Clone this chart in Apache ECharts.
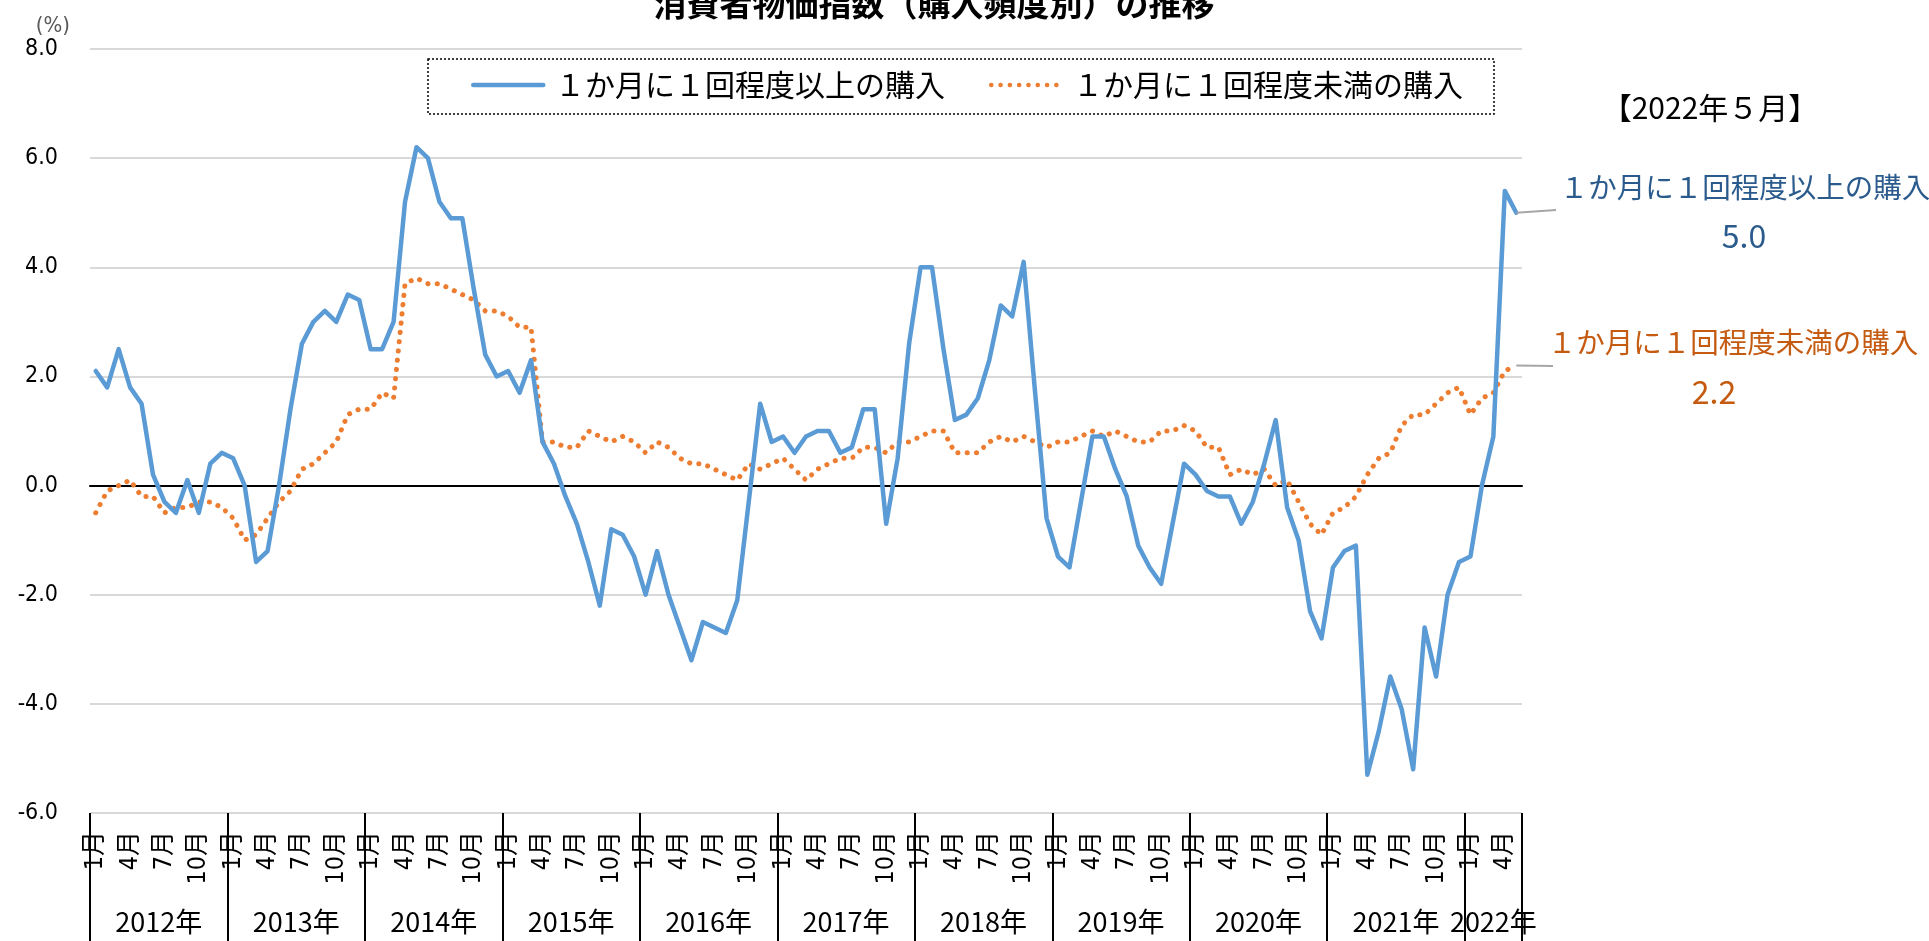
<!DOCTYPE html>
<html>
<head>
<meta charset="utf-8">
<title>消費者物価指数（購入頻度別）の推移</title>
<script src="https://cdn.jsdelivr.net/npm/echarts@6/dist/echarts.min.js"></script>
<style>
  html, body { margin: 0; padding: 0; background: #fff; }
  #chart { width: 1929px; height: 941px; }
</style>
</head>
<body>
<div id="chart"></div>
<script>
// 年・月（2012年1月〜2022年5月）
var years = [2012, 2013, 2014, 2015, 2016, 2017, 2018, 2019, 2020, 2021, 2022];
var lastMonth = 5;
var seriesNames = ['１か月に１回程度以上の購入', '１か月に１回程度未満の購入'];
var yTicks = [-6, -4, -2, 0, 2, 4, 6, 8];

// 前年同月比（％）
var frequent = [
  2.1, 1.8, 2.5, 1.8, 1.5, 0.2, -0.3, -0.5, 0.1, -0.5, 0.4, 0.6,
  0.5, 0.0, -1.4, -1.2, 0.0, 1.4, 2.6, 3.0, 3.2, 3.0, 3.5, 3.4,
  2.5, 2.5, 3.0, 5.2, 6.2, 6.0, 5.2, 4.9, 4.9, 3.6, 2.4, 2.0,
  2.1, 1.7, 2.3, 0.8, 0.4, -0.2, -0.7, -1.4, -2.2, -0.8, -0.9, -1.3,
  -2.0, -1.2, -2.0, -2.6, -3.2, -2.5, -2.6, -2.7, -2.1, -0.3, 1.5, 0.8,
  0.9, 0.6, 0.9, 1.0, 1.0, 0.6, 0.7, 1.4, 1.4, -0.7, 0.5, 2.6,
  4.0, 4.0, 2.5, 1.2, 1.3, 1.6, 2.3, 3.3, 3.1, 4.1, 1.7, -0.6,
  -1.3, -1.5, -0.3, 0.9, 0.9, 0.3, -0.2, -1.1, -1.5, -1.8, -0.7, 0.4,
  0.2, -0.1, -0.2, -0.2, -0.7, -0.3, 0.4, 1.2, -0.4, -1.0, -2.3, -2.8,
  -1.5, -1.2, -1.1, -5.3, -4.5, -3.5, -4.1, -5.2, -2.6, -3.5, -2.0, -1.4,
  -1.3, 0.0, 0.9, 5.4, 5.0
];
var infrequent = [
  -0.5, -0.1, 0.0, 0.1, -0.2, -0.2, -0.5, -0.4, -0.4, -0.3, -0.3, -0.4,
  -0.6, -1.0, -0.9, -0.6, -0.3, -0.1, 0.3, 0.4, 0.6, 0.8, 1.3, 1.4,
  1.4, 1.7, 1.6, 3.7, 3.8, 3.7, 3.7, 3.6, 3.5, 3.4, 3.2, 3.2,
  3.1, 2.9, 2.9, 0.8, 0.8, 0.7, 0.7, 1.0, 0.9, 0.8, 0.9, 0.8,
  0.6, 0.8, 0.7, 0.5, 0.4, 0.4, 0.3, 0.2, 0.1, 0.4, 0.3, 0.4,
  0.5, 0.3, 0.1, 0.3, 0.4, 0.5, 0.5, 0.7, 0.7, 0.6, 0.8, 0.8,
  0.9, 1.0, 1.0, 0.6, 0.6, 0.6, 0.8, 0.9, 0.8, 0.9, 0.8, 0.7,
  0.8, 0.8, 0.9, 1.0, 0.9, 1.0, 0.9, 0.8, 0.8, 1.0, 1.0, 1.1,
  1.0, 0.7, 0.7, 0.2, 0.3, 0.2, 0.3, 0.0, 0.1, -0.3, -0.7, -0.9,
  -0.5, -0.4, -0.2, 0.2, 0.5, 0.6, 1.1, 1.3, 1.3, 1.5, 1.7, 1.8,
  1.3, 1.6, 1.7, 2.1, 2.2
];

var months = [];
years.forEach(function (y) {
  var n = y === years[years.length - 1] ? lastMonth : 12;
  for (var m = 1; m <= n; m++) months.push(y + '-' + m);
});

var BLUE = '#5b9bd5';
var ORANGE = '#ed7d31';
var JP = "'Noto Sans CJK JP', 'Noto Sans', sans-serif";
var NARROW = "'DejaVu Sans', 'Noto Sans CJK JP', sans-serif";

var lastIdx = months.length - 1;
var firstOfLastYear = months.length - lastMonth;

var chart = echarts.init(document.getElementById('chart'), null, { renderer: 'canvas' });

var gridRect = { left: 90, right: 407, top: 49, bottom: 128, outerBoundsMode: 'none' };

var option = {
  animation: false,
  textStyle: { fontFamily: JP },
  grid: [gridRect, gridRect],
  legend: {
    data: seriesNames,
    left: 471,
    top: 70,
    padding: 0,
    itemWidth: 70,
    itemHeight: 14,
    itemGap: 44,
    itemStyle: { opacity: 0 },
    lineStyle: { width: 4.5 },
    formatter: function (n) { return ' ' + n; },
    textStyle: { fontSize: 30, color: '#000', fontFamily: JP }
  },
  xAxis: [
    {
      // 月ラベルと年の区切り線
      type: 'category',
      gridIndex: 0,
      data: months,
      boundaryGap: true,
      axisLine: { show: false, onZero: false },
      axisTick: {
        show: true,
        interval: function (i) { return i % 12 === 0; },
        length: 128,
        lineStyle: { color: '#000', width: 2 }
      },
      axisLabel: {
        interval: function (i) { return i % 3 === 0; },
        rotate: 90,
        margin: 18,
        fontSize: 25,
        fontWeight: 'condensed',
        color: '#000',
        fontFamily: NARROW,
        formatter: function (v) { return v.split('-')[1] + '月'; }
      },
      splitLine: { show: false }
    },
    {
      // 0 の線
      type: 'category',
      gridIndex: 0,
      position: 'top',
      data: months,
      axisLine: { show: true, onZero: true, lineStyle: { color: '#000', width: 2 } },
      axisTick: { show: false },
      axisLabel: { show: false },
      splitLine: { show: false }
    },
    {
      // 年ラベル
      type: 'category',
      gridIndex: 1,
      data: months,
      axisLine: { show: false, onZero: false },
      axisTick: { show: false },
      axisLabel: {
        interval: function (i) {
          return (i < firstOfLastYear && i % 12 === 6) || i === firstOfLastYear + Math.floor(lastMonth / 2);
        },
        margin: 95,
        color: '#000',
        fontSize: 27,
        fontFamily: JP,
        formatter: function (v, i) {
          var y = v.split('-')[0];
          return i < firstOfLastYear ? '{a|' + y + '年}' : '{b|' + y + '年}';
        },
        rich: {
          a: { fontSize: 27, fontFamily: JP, color: '#000', padding: [0, 11.5, 0, 0] },
          b: { fontSize: 27, fontFamily: JP, color: '#000' }
        }
      }
    }
  ],
  yAxis: [
    {
      type: 'value',
      gridIndex: 0,
      min: yTicks[0],
      max: yTicks[yTicks.length - 1],
      interval: 2,
      name: '(%)',
      nameLocation: 'end',
      nameGap: 7,
      nameTextStyle: { fontSize: 22, fontWeight: 'condensed', color: '#595959', fontFamily: NARROW, align: 'right', padding: [0, 20, 0, 0] },
      axisLine: { show: false },
      axisTick: { show: false },
      axisLabel: {
        margin: 32,
        fontSize: 23,
        fontWeight: 'condensed',
        color: '#000',
        fontFamily: NARROW,
        formatter: function (v) { return v.toFixed(1); }
      },
      splitLine: { show: true, lineStyle: { color: '#d9d9d9', width: 2 } }
    },
    {
      type: 'value',
      gridIndex: 1,
      min: yTicks[0],
      max: yTicks[yTicks.length - 1],
      show: false
    }
  ],
  series: [
    {
      name: seriesNames[0],
      type: 'line',
      xAxisIndex: 0,
      yAxisIndex: 0,
      data: frequent,
      symbol: 'none',
      z: 3,
      itemStyle: { color: BLUE },
      lineStyle: { color: BLUE, width: 4.5, cap: 'round', join: 'round' },
      markLine: {
        silent: true,
        symbol: 'none',
        label: { show: false },
        lineStyle: { color: '#a6a6a6', width: 2, type: 'solid' },
        data: [[
          { coord: [months[lastIdx], frequent[lastIdx]] },
          { x: 1556, y: 210 }
        ]]
      }
    },
    {
      name: seriesNames[1],
      type: 'line',
      xAxisIndex: 0,
      yAxisIndex: 0,
      data: infrequent,
      symbol: 'none',
      z: 2,
      itemStyle: { color: ORANGE },
      lineStyle: { color: ORANGE, width: 5, type: [0.1, 9.2], cap: 'round', join: 'round' },
      markLine: {
        silent: true,
        symbol: 'none',
        label: { show: false },
        lineStyle: { color: '#a6a6a6', width: 2, type: 'solid' },
        data: [[
          { coord: [months[lastIdx], infrequent[lastIdx]] },
          { x: 1553, y: 366 }
        ]]
      }
    }
  ],
  graphic: [
    {
      type: 'text', x: 934, y: 3,
      style: { text: '消費者物価指数（購入頻度別）の推移', font: 'bold 33px ' + JP, fill: '#000', align: 'center', verticalAlign: 'middle' }
    },
    {
      type: 'rect', shape: { x: 428, y: 59, width: 1066, height: 55 },
      style: { fill: 'none', stroke: '#000', lineWidth: 1.5, lineDash: [2, 2] }
    },
    {
      type: 'text', x: 1710, y: 108,
      style: { text: '【2022年５月】', font: '30px ' + JP, fill: '#000', align: 'center', verticalAlign: 'middle' }
    },
    {
      type: 'text', x: 1745, y: 187,
      style: { text: seriesNames[0], font: '28.5px ' + JP, fill: '#2b5b8c', align: 'center', verticalAlign: 'middle' }
    },
    {
      type: 'text', x: 1744, y: 236,
      style: { text: frequent[lastIdx].toFixed(1), font: '32px ' + JP, fill: '#2b5b8c', align: 'center', verticalAlign: 'middle' }
    },
    {
      type: 'text', x: 1733, y: 342,
      style: { text: seriesNames[1], font: '28.5px ' + JP, fill: '#c55a11', align: 'center', verticalAlign: 'middle' }
    },
    {
      type: 'text', x: 1714, y: 392,
      style: { text: infrequent[lastIdx].toFixed(1), font: '32px ' + JP, fill: '#c55a11', align: 'center', verticalAlign: 'middle' }
    }
  ]
};

chart.setOption(option);
window.addEventListener('resize', function () { chart.resize(); });
</script>
</body>
</html>
